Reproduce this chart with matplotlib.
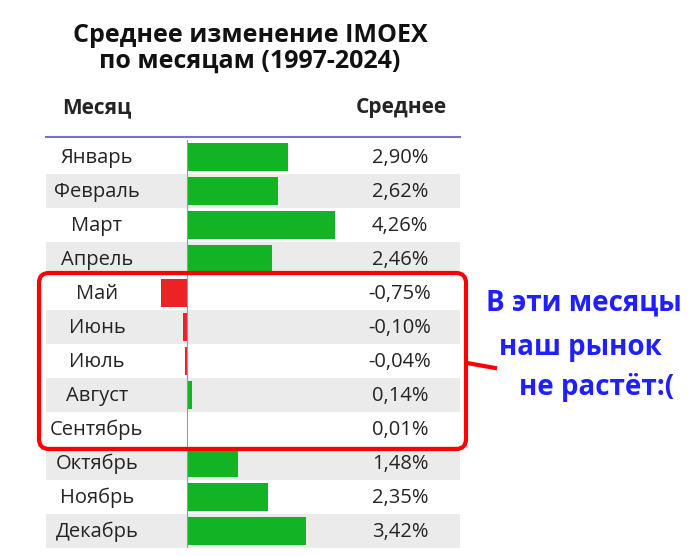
import matplotlib.pyplot as plt
from matplotlib.patches import FancyBboxPatch, Rectangle

plt.rcParams['font.family'] = ['Open Sans', 'DejaVu Sans']

months = ['Январь', 'Февраль', 'Март', 'Апрель', 'Май', 'Июнь', 'Июль',
          'Август', 'Сентябрь', 'Октябрь', 'Ноябрь', 'Декабрь']
avg_change = [2.90, 2.62, 4.26, 2.46, -0.75, -0.10, -0.04, 0.14, 0.01, 1.48, 2.35, 3.42]
title = 'Среднее изменение IMOEX\nпо месяцам (1997-2024)'
note = ['В эти месяцы', 'наш рынок', 'не растёт:(']

W, H = 700, 556
fig = plt.figure(figsize=(W / 100, H / 100), dpi=100)

# table area in pixels: x 46..460, y 140..548
px_per_pct = 34.8
zero_x = 186.7
tab_l, tab_r, tab_t, tab_b = 46, 460, 140, 548
tab = fig.add_axes([tab_l / W, 1 - tab_b / H, (tab_r - tab_l) / W, (tab_b - tab_t) / H])
tab.set_xlim((tab_l - zero_x) / px_per_pct, (tab_r - zero_x) / px_per_pct)
tab.set_ylim(len(months), 0)
tab.axis('off')

yt = tab.get_yaxis_transform()
for i, (m, v) in enumerate(zip(months, avg_change)):
    if i % 2 == 1:
        tab.add_patch(Rectangle((0, i), 1, 1, transform=yt, facecolor='#ebebeb',
                                edgecolor='none', zorder=0))
    tab.text(0.123, i + 0.52, m, transform=yt, ha='center', va='center',
             fontsize=14.5, color='#252423')
    tab.text(0.855, i + 0.52, f'{v:.2f}%'.replace('.', ','), transform=yt,
             ha='center', va='center', fontsize=14.5, color='#252423')

colors = ['#12b425' if v >= 0 else '#ec2224' for v in avg_change]
tab.barh([i + 0.5 for i in range(len(months))], avg_change, height=0.85,
         color=colors, zorder=2)
tab.axvline(0, color='#9a9a9a', lw=0.8, zorder=3)

# overlay in pixel coordinates
top = fig.add_axes([0, 0, 1, 1], facecolor='none')
top.set_xlim(0, W)
top.set_ylim(H, 0)
top.axis('off')

top.text(250, 48, title, ha='center', va='center', fontsize=18,
         fontweight='bold', color='#111111', linespacing=1.05)
top.text(97, 108, 'Месяц', ha='center', va='center', fontsize=15,
         fontweight='bold', color='#252423')
top.text(447, 108, 'Среднее', ha='right', va='center', fontsize=15,
         fontweight='bold', color='#252423')
top.plot([46, 460], [137, 137], color='#7b6fd0', lw=1.5)

top.add_patch(FancyBboxPatch((39, 273), 427, 176,
                             boxstyle='round,pad=0,rounding_size=10',
                             facecolor='none', edgecolor='#ff0000', lw=3))
top.plot([467, 495], [363, 368], color='#ff0000', lw=3)

note_x = [584, 580, 597]
note_y = [303, 348, 388]
for s, x, y in zip(note, note_x, note_y):
    top.text(x, y, s, ha='center', va='center', fontsize=20,
             fontweight='bold', color='#1f1fff')

fig.savefig('out.png', dpi=100)
